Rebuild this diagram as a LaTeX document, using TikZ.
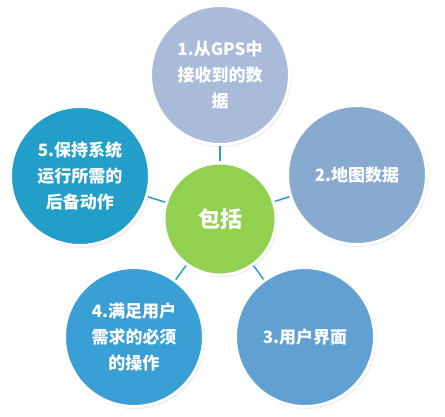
\documentclass[tikz,border=0pt]{standalone}
\usepackage{fontspec}
\newfontfamily\cjk{Noto Sans CJK SC}
\usetikzlibrary{shadows}
\definecolor{topc}{HTML}{A9BBD9}
\definecolor{rightc}{HTML}{88AACF}
\definecolor{brc}{HTML}{60A0D3}
\definecolor{blc}{HTML}{3A9FD4}
\definecolor{leftc}{HTML}{229FC9}
\definecolor{midc}{HTML}{92D050}
\definecolor{linkc}{HTML}{2A9DCB}
\tikzset{
  bub/.style={circle, draw=white, line width=3pt, inner sep=0pt, minimum size=139pt,
    text=white, align=center, font=\cjk\bfseries\fontsize{17}{26}\selectfont,
    circular drop shadow={shadow xshift=1pt, shadow yshift=-1.5pt, shadow scale=1.02, fill=black!40}},
  link/.style={draw=linkc, line width=1.5pt}
}
\begin{document}
\begin{tikzpicture}[x=1pt, y=-1pt]
\useasboundingbox (0,0) rectangle (445,417);
\node[bub, fill=midc, minimum size=112pt, font=\cjk\bfseries\fontsize{22}{26}\selectfont] (mid) at (220,219) {包括};
\node[bub, fill=topc] (n1) at (220,75) {1.从GPS中\\接收到的数\\据};
\node[bub, fill=rightc] (n2) at (357,175) {2.地图数据};
\node[bub, fill=brc] (n3) at (305,337) {3.用户界面};
\node[bub, fill=blc] (n4) at (134,337) {4.满足用户\\需求的必须\\的操作};
\node[bub, fill=leftc] (n5) at (80,176) {5.保持系统\\运行所需的\\后备动作};
\draw[link] (mid) -- (n1);
\draw[link] (mid) -- (n2);
\draw[link] (mid) -- (n3);
\draw[link] (mid) -- (n4);
\draw[link] (mid) -- (n5);
\end{tikzpicture}
\end{document}
